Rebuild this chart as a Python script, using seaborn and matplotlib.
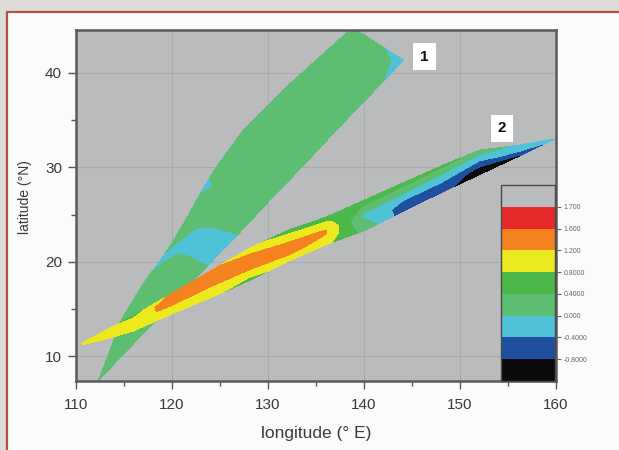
import numpy as np
import matplotlib
matplotlib.use("Agg")
import matplotlib.pyplot as plt
from matplotlib.patches import Rectangle
from matplotlib.colors import ListedColormap, BoundaryNorm
from matplotlib.cm import ScalarMappable
import seaborn as sns

# Contour levels of the field and the labels printed on the colour scale
LEVELS = [-1.2, -0.8, -0.4, 0.0, 0.4, 0.8, 1.2, 1.6, 1.7, 2.1]
LEVEL_LABELS = ["-0.8000", "-0.4000", "0.000", "0.4000", "0.8000", "1.200", "1.600", "1.700"]
BAND_COLORS = ["#0b0b0b", "#1f4f9f", "#4fc2d8", "#5dbd70", "#4db84a",
               "#ece91f", "#f4821f", "#e6292b", "#b9bbbc"]

# Track 1: stations by latitude, west / east edge of the swath, values west -> east
TRACK1_LAT = [7.4, 10, 14, 18, 20, 22, 24, 26, 28, 30, 34, 38, 41.3, 44.7]
TRACK1_WEST_LON = [112.3, 113.3, 114.8, 117.2, 118.7, 120.0, 121.2, 122.3, 123.4,
                   124.6, 127.5, 131.4, 135.0, 138.75]
TRACK1_EAST_LON = [112.3, 114.7, 118.5, 122.2, 124.1, 126.0, 127.9, 129.7, 131.6,
                   133.5, 137.2, 141.0, 144.1, 138.9]
TRACK1_VALUES = [
    [0.2, 0.2, 0.2, 0.2, 0.2],
    [0.2, 0.2, 0.2, 0.2, 0.2],
    [0.2, 0.2, 0.2, 0.2, 0.2],
    [0.1, 0.2, 0.2, 0.2, 0.2],
    [-0.1, 0.15, 0.1, 0.0, -0.05],
    [0.1, -0.2, -0.25, -0.25, -0.2],
    [0.2, 0.05, 0.05, 0.15, 0.25],
    [0.2, 0.2, 0.2, 0.2, 0.2],
    [-0.15, 0.2, 0.2, 0.2, 0.2],
    [0.2, 0.2, 0.2, 0.2, 0.2],
    [0.2, 0.2, 0.2, 0.2, 0.2],
    [0.2, 0.2, 0.2, 0.2, 0.1],
    [0.2, 0.2, 0.2, 0.15, -0.2],
    [0.2, 0.2, 0.2, 0.2, 0.3],
]

# Track 2: stations by longitude, north / south edge of the swath, values north -> south
TRACK2_LON = [110.7, 113, 116, 120, 124, 128, 132, 136, 140, 144, 148, 152, 156, 159.9]
TRACK2_NORTH_LAT = [11.45, 12.7, 14.3, 16.65, 19.0, 21.4, 23.3, 24.7, 26.5, 28.3,
                    30.1, 31.8, 32.3, 33.0]
TRACK2_SOUTH_LAT = [11.25, 11.8, 12.7, 14.5, 16.2, 18.0, 20.0, 21.8, 23.3, 25.3,
                    27.3, 29.2, 31.1, 33.0]
TRACK2_VALUES = [
    [1.0, 1.0, 1.0, 1.0, 1.0],
    [0.9, 1.0, 1.0, 1.0, 1.0],
    [0.6, 0.95, 1.05, 1.0, 1.0],
    [1.3, 1.4, 1.3, 1.0, 0.9],
    [1.3, 1.4, 1.3, 1.0, 0.9],
    [0.9, 1.3, 1.4, 1.1, 0.6],
    [0.6, 1.0, 1.35, 1.25, 1.0],
    [0.6, 0.9, 1.25, 1.15, 0.9],
    [0.6, 0.3, -0.1, 0.1, 0.3],
    [0.6, 0.2, -0.2, -0.6, -0.6],
    [0.5, 0.1, -0.2, -0.6, -0.7],
    [0.3, -0.1, -0.5, -0.9, -1.0],
    [-0.1, -0.2, -0.3, -0.7, -0.85],
    [-0.2, -0.2, -0.2, -0.2, -0.2],
]

X_TICKS = [110, 120, 130, 140, 150, 160]
Y_TICKS = [10, 20, 30, 40]
TRACK_NAMES = ["1", "2"]
TRACK_NAME_POS = [(146.3, 41.7), (154.4, 34.1)]

sns.set_theme(style="ticks")
plt.rcParams["font.family"] = ["Liberation Sans", "DejaVu Sans"]

fig = plt.figure(figsize=(6.19, 4.5), dpi=100)
fig.patch.set_facecolor("#dedbd8")
fig.patches.append(Rectangle((0.0113, -0.05), 1.1, 1.0233, transform=fig.transFigure,
                             facecolor="#fbfbfb", edgecolor="#b0563e", lw=1.6, zorder=-10))

ax = fig.add_axes([0.1228, 0.1533, 0.7754, 0.78])
ax.set_facecolor("#b9bbbc")


def swath_mesh_by_lat(lat, west, east, ncols):
    t = np.linspace(0.0, 1.0, ncols)
    lat = np.asarray(lat)[:, None]
    west = np.asarray(west)[:, None]
    east = np.asarray(east)[:, None]
    return west + (east - west) * t, np.repeat(lat, ncols, axis=1)


def swath_mesh_by_lon(lon, north, south, ncols):
    t = np.linspace(0.0, 1.0, ncols)
    lon = np.asarray(lon)[:, None]
    north = np.asarray(north)[:, None]
    south = np.asarray(south)[:, None]
    return np.repeat(lon, ncols, axis=1), north + (south - north) * t


z1 = np.asarray(TRACK1_VALUES)
x1, y1 = swath_mesh_by_lat(TRACK1_LAT, TRACK1_WEST_LON, TRACK1_EAST_LON, z1.shape[1])
z2 = np.asarray(TRACK2_VALUES)
x2, y2 = swath_mesh_by_lon(TRACK2_LON, TRACK2_NORTH_LAT, TRACK2_SOUTH_LAT, z2.shape[1])

cmap = ListedColormap(sns.color_palette(BAND_COLORS))
norm = BoundaryNorm(LEVELS, cmap.N)
ax.contourf(x1, y1, z1, levels=LEVELS, cmap=cmap, norm=norm, zorder=2)
ax.contourf(x2, y2, z2, levels=LEVELS, cmap=cmap, norm=norm, zorder=3)

for name, (lx, ly) in zip(TRACK_NAMES, TRACK_NAME_POS):
    ax.text(lx, ly, name, ha="center", va="center", fontsize=11, fontweight="bold",
            color="#111111", zorder=6,
            bbox=dict(boxstyle="square,pad=0.45", fc="white", ec="none"))

ax.set_xlim(110, 160)
ax.set_ylim(7.4, 44.5)
ax.set_xticks(X_TICKS)
ax.set_yticks(Y_TICKS)
ax.set_xticks(np.arange(115, 160, 10), minor=True)
ax.set_yticks([15, 25, 35], minor=True)
ax.grid(True, which="major", color="#a9abac", lw=0.8)
ax.set_axisbelow(True)
ax.tick_params(which="major", direction="out", length=6, width=1.0, color="#555555",
               labelsize=11, labelcolor="#3a3a3a")
ax.tick_params(axis="x", which="major", pad=6)
ax.tick_params(axis="y", which="major", pad=4)
ax.tick_params(which="minor", direction="out", length=3.5, width=1.0, color="#555555")
for s in ax.spines.values():
    s.set_color("#5a5a5a")
    s.set_linewidth(1.8)

ax.set_xlabel("longitude (° E)", fontsize=12.5, color="#3a3a3a", labelpad=10)
ax.set_ylabel("latitude (°N)", fontsize=10, color="#3a3a3a")
ax.yaxis.set_label_coords(-0.092, 0.524)

# colour scale sits inside the lower right corner of the map
cax = ax.inset_axes([0.885, 0.0, 0.113, 0.558], zorder=10)
cax.set_facecolor("#b9bbbc")
cb = fig.colorbar(ScalarMappable(norm=norm, cmap=cmap), cax=cax,
                  boundaries=LEVELS, values=[(a + b) / 2 for a, b in zip(LEVELS[:-1], LEVELS[1:])],
                  ticks=LEVELS[1:-1], spacing="uniform")
cb.ax.minorticks_off()
cb.ax.set_yticklabels(LEVEL_LABELS)
cb.ax.tick_params(length=4, width=0.8, color="#666666", labelsize=5, labelcolor="#666666", pad=2)
cb.outline.set_edgecolor("#4a4a4a")
cb.outline.set_linewidth(1.0)

fig.savefig("out.png", dpi=100)
